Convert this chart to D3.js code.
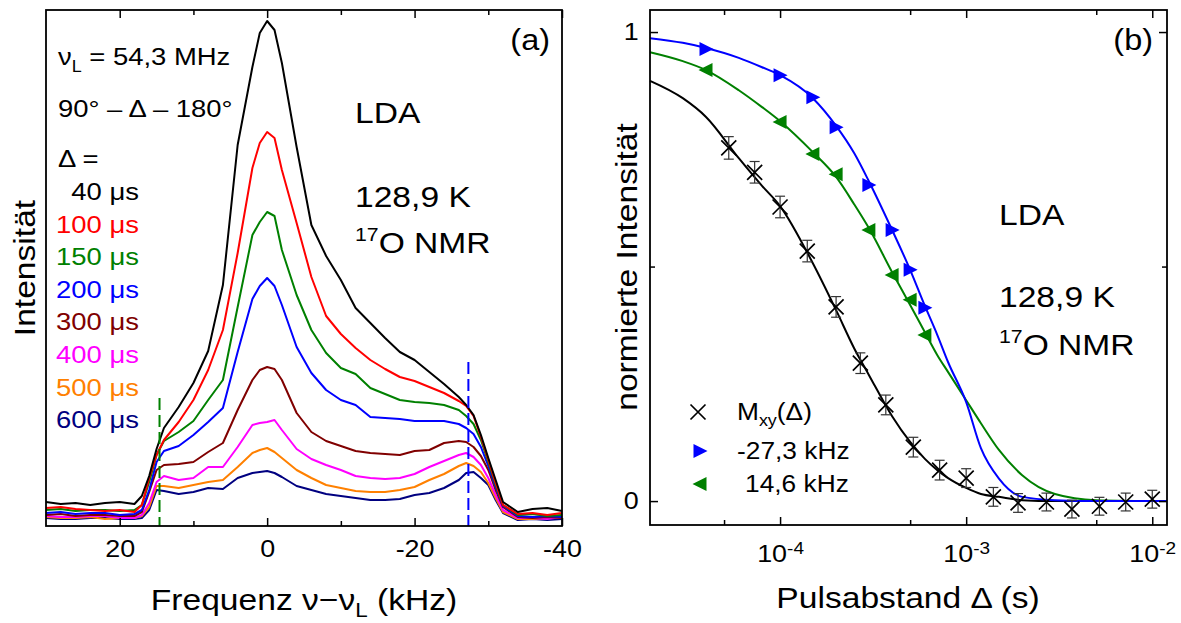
<!DOCTYPE html>
<html>
<head>
<meta charset="utf-8">
<script src="https://cdn.jsdelivr.net/npm/d3@7"></script>
<style>
  body { margin: 0; background: #fff; }
  svg { display: block; }
  text { font-family: "Liberation Sans", Arial, sans-serif; fill: #000; }
</style>
</head>
<body>
<div id="chart"></div>
<script>
// (a) spectra, intensity in arbitrary units
const freqs = [30, 28, 26, 24, 22, 20, 18, 17, 16, 15, 14, 12, 10, 8, 6, 4, 2, 1, 0, -1, -2, -4, -6, -8, -10, -12, -14, -16, -18, -20, -22, -24, -26, -27, -28, -29, -30, -31, -32, -34, -36, -38, -40];

const s40  = [4.8, 4.4, 4.6, 4.2, 4.6, 4.8, 4.4, 6.0, 10.0, 15.4, 19.6, 23.8, 28.6, 35.0, 48.2, 76.2, 91.8, 98.6, 101.0, 99.2, 92.6, 75.8, 60.2, 54.0, 49.2, 43.6, 40.6, 37.6, 34.8, 33.2, 30.8, 28.4, 25.8, 24.2, 22.2, 18.2, 13.6, 9.2, 4.8, 2.8, 3.4, 3.6, 3.0];
const s100 = [3.6, 3.8, 3.4, 3.2, 3.0, 3.2, 2.8, 4.2, 9.6, 14.2, 17.2, 20.8, 25.2, 31.2, 39.2, 54.6, 71.6, 76.6, 78.8, 77.6, 71.2, 60.6, 49.8, 42.0, 38.4, 35.6, 33.2, 31.4, 29.8, 29.0, 27.8, 26.6, 25.0, 24.0, 22.0, 17.8, 13.2, 8.6, 4.2, 2.4, 2.6, 2.2, 2.6];
const s150 = [3.2, 3.4, 3.0, 3.2, 3.2, 3.0, 3.2, 4.2, 8.8, 14.2, 17.0, 18.8, 21.0, 25.2, 29.2, 43.8, 58.2, 60.8, 62.8, 62.0, 55.2, 46.2, 39.2, 34.6, 31.6, 30.4, 27.6, 26.4, 25.2, 24.8, 24.6, 24.2, 23.2, 22.0, 20.4, 17.2, 12.8, 8.2, 4.2, 2.2, 2.4, 2.0, 2.2];
const s200 = [2.6, 2.8, 2.4, 2.6, 2.6, 2.2, 2.4, 3.2, 7.2, 12.8, 15.0, 16.0, 18.2, 20.8, 23.6, 34.8, 45.4, 48.0, 49.6, 48.0, 44.2, 35.8, 30.6, 27.2, 25.2, 24.2, 21.8, 21.6, 21.4, 21.0, 21.0, 21.0, 20.4, 19.6, 18.4, 15.8, 12.0, 7.8, 4.0, 2.0, 1.8, 2.0, 1.8];
const s300 = [2.2, 2.4, 2.0, 2.2, 2.2, 2.0, 2.0, 2.8, 6.8, 11.2, 12.2, 12.4, 12.8, 14.8, 16.6, 23.2, 29.2, 31.2, 31.8, 31.4, 29.2, 22.6, 18.8, 17.0, 16.0, 15.0, 14.6, 14.4, 14.2, 15.0, 15.2, 16.6, 17.0, 16.8, 15.8, 14.0, 11.2, 7.2, 3.8, 1.8, 1.6, 1.8, 1.6];
const s400 = [2.0, 1.8, 1.8, 2.0, 2.0, 1.6, 1.6, 2.2, 4.6, 8.8, 10.0, 9.2, 9.6, 11.8, 11.8, 15.8, 20.2, 20.6, 20.8, 21.2, 19.2, 15.4, 13.4, 12.2, 11.2, 10.0, 9.6, 9.4, 9.6, 10.4, 11.8, 13.0, 14.2, 14.6, 13.8, 12.2, 9.6, 6.2, 3.2, 1.6, 1.6, 1.4, 1.8];
const s500 = [1.8, 1.6, 1.6, 1.8, 1.4, 1.6, 1.6, 2.0, 3.8, 8.0, 8.0, 7.6, 8.2, 8.8, 9.2, 11.8, 14.6, 15.2, 15.6, 14.8, 13.6, 11.2, 9.6, 8.2, 7.6, 7.0, 6.8, 6.8, 7.2, 7.8, 9.2, 10.4, 12.0, 12.6, 12.0, 10.8, 8.6, 5.6, 2.8, 1.4, 1.4, 1.6, 1.6];
const s600 = [1.6, 1.4, 1.4, 1.6, 1.6, 1.4, 1.4, 1.6, 3.2, 7.2, 7.0, 6.4, 6.8, 7.6, 7.4, 9.6, 10.6, 10.8, 11.0, 10.6, 9.8, 8.0, 7.2, 6.4, 6.0, 5.6, 5.2, 5.2, 5.4, 6.2, 6.6, 7.6, 9.2, 10.6, 10.8, 9.6, 8.2, 5.2, 2.6, 1.2, 1.4, 1.2, 1.4];

const delayLabels = ["40 μs", "100 μs", "150 μs", "200 μs", "300 μs", "400 μs", "500 μs", "600 μs"];
const markFreq = [14.6, -27.3];
const markTop = [25.6, 32.8];

// (b) normalized intensity vs pulse spacing
const mxyDelay = [5.3e-5, 7.3e-5, 1.0e-4, 1.4e-4, 2.0e-4, 2.7e-4, 3.7e-4, 5.2e-4, 7.2e-4, 1.0e-3, 1.4e-3, 1.9e-3, 2.7e-3, 3.7e-3, 5.2e-3, 7.2e-3, 1.0e-2];
const mxyValue = [0.753, 0.701, 0.627, 0.533, 0.414, 0.294, 0.205, 0.115, 0.066, 0.049, 0.009, -0.004, -0.002, -0.017, -0.011, -0.002, 0.004];
const mxyError = [0.024, 0.023, 0.023, 0.023, 0.022, 0.022, 0.021, 0.021, 0.021, 0.020, 0.020, 0.020, 0.019, 0.019, 0.019, 0.019, 0.019];

const triDelay = [4e-5, 1e-4, 1.5e-4, 2e-4, 3e-4, 4e-4, 5e-4, 6e-4];
const blueValue = [0.964, 0.908, 0.861, 0.797, 0.674, 0.578, 0.493, 0.412];
const greenValue = [0.919, 0.808, 0.740, 0.697, 0.578, 0.482, 0.429, 0.354];

const fitDelay = [2e-5, 3e-5, 4e-5, 6e-5, 8e-5, 1e-4, 1.5e-4, 2e-4, 2.5e-4, 3e-4, 4e-4, 5e-4, 6e-4, 7e-4, 8e-4, 1e-3, 1.2e-3, 1.5e-3, 2e-3, 3e-3, 5e-3, 1.2e-2];
const fitMxy   = [0.896, 0.859, 0.819, 0.731, 0.672, 0.629, 0.507, 0.407, 0.326, 0.269, 0.181, 0.126, 0.090, 0.066, 0.049, 0.028, 0.015, 0.009, 0.002, 0, 0, 0];
const fitBlue  = [0.987, 0.977, 0.966, 0.945, 0.925, 0.908, 0.859, 0.800, 0.742, 0.682, 0.578, 0.493, 0.416, 0.354, 0.296, 0.211, 0.113, 0.048, 0.009, 0.002, 0, 0];
const fitGreen = [0.957, 0.938, 0.919, 0.876, 0.840, 0.810, 0.744, 0.691, 0.633, 0.582, 0.488, 0.418, 0.360, 0.311, 0.275, 0.215, 0.166, 0.109, 0.055, 0.015, 0.002, 0];

const spectra = [s40, s100, s150, s200, s300, s400, s500, s600];
const colors = ["#000000", "#ff0000", "#008000", "#0000ff", "#800000", "#ff00ff", "#ff8000", "#000080"];
const blue = "#0000ff", green = "#008000";
const SX = 1.12;

const svg = d3.select("#chart").append("svg")
    .attr("width", 1181)
    .attr("height", 623);

const label = (g, x, y, size, anchor = "start", rot = 0) =>
    g.append("text")
        .attr("transform", `translate(${x},${y}) rotate(${rot}) scale(${SX},1)`)
        .attr("font-size", size)
        .attr("text-anchor", anchor);

const styleAxis = (g, size = 24) => {
    g.select(".domain").remove();
    g.attr("font-size", size).attr("font-family", null);
    g.selectAll(".tick line").attr("stroke-width", 1.5);
    g.selectAll(".tick text").attr("transform", `scale(${SX},1)`);
    return g;
};

// ---------- panel (a)
const xA = d3.scaleLinear().domain([30, -40]).range([46, 562]);
const yA = d3.scaleLinear().domain([0, 103.2]).range([526, 10]);
const pA = svg.append("g");

const lineA = d3.line().x(d => xA(d[0])).y(d => yA(d[1]));

pA.selectAll("path.spec")
    .data(spectra.map((s, i) => ({ s, c: colors[i] })).reverse())
    .enter()
    .append("path")
    .attr("class", "spec")
    .attr("fill", "none")
    .attr("stroke", d => d.c)
    .attr("stroke-width", 2)
    .attr("stroke-linejoin", "round")
    .attr("d", d => lineA(freqs.map((f, j) => [f, d.s[j]])));

pA.selectAll("line.mark")
    .data(markFreq)
    .enter()
    .append("line")
    .attr("x1", d => xA(d)).attr("x2", d => xA(d))
    .attr("y1", (d, i) => yA(markTop[i]))
    .attr("y2", yA(0))
    .attr("stroke", (d, i) => [green, blue][i])
    .attr("stroke-width", 2)
    .attr("stroke-dasharray", "12,5");

const [ax0, ax1] = xA.range(), [ay0, ay1] = yA.range();

pA.append("g").attr("transform", `translate(0,${ay0})`)
    .call(d3.axisBottom(xA).tickValues([20, 0, -20, -40]).tickSize(-8).tickPadding(14).tickFormat(d => d))
    .call(styleAxis);
pA.append("g").attr("transform", `translate(0,${ay0})`)
    .call(d3.axisBottom(xA).tickValues([10, -10, -30]).tickSize(-5).tickFormat(() => ""))
    .call(styleAxis);
pA.append("g").attr("transform", `translate(0,${ay1})`)
    .call(d3.axisTop(xA).tickValues([20, 0, -20, -40]).tickSize(-8).tickFormat(() => ""))
    .call(styleAxis);
pA.append("g").attr("transform", `translate(0,${ay1})`)
    .call(d3.axisTop(xA).tickValues([10, -10, -30]).tickSize(-5).tickFormat(() => ""))
    .call(styleAxis);

pA.append("rect")
    .attr("x", ax0).attr("y", ay1)
    .attr("width", ax1 - ax0).attr("height", ay0 - ay1)
    .attr("fill", "none").attr("stroke", "#000").attr("stroke-width", 1.8);

let t = label(pA, 58, 65, 24.5);
t.append("tspan").text("ν");
t.append("tspan").attr("font-size", 16).attr("dy", 7).text("L");
t.append("tspan").attr("dy", -7).text(" = 54,3 MHz");
label(pA, 58, 117, 24.5).text("90° – Δ – 180°");
label(pA, 58, 167, 24.5).text("Δ =");
delayLabels.forEach((d, i) => {
    label(pA, 139, 200 + i * 32.6, 24.5, "end").style("fill", colors[i]).text(d);
});

label(pA, 550, 50, 29, "end").text("(a)");
label(pA, 355, 123, 30).text("LDA");
label(pA, 355, 207, 30).text("128,9 K");
t = label(pA, 355, 253, 30);
t.append("tspan").attr("font-size", 19).attr("dy", -12).text("17");
t.append("tspan").attr("dy", 12).text("O NMR");

label(pA, 35, 268, 30, "middle", -90).text("Intensität");
t = label(pA, 304, 610, 30, "middle");
t.append("tspan").text("Frequenz ν\u2212ν");
t.append("tspan").attr("font-size", 20).attr("dy", 7).text("L");
t.append("tspan").attr("dy", -7).text(" (kHz)");

// ---------- panel (b)
const xB = d3.scaleLog().domain([2e-5, 1.2e-2]).range([650, 1167]);
const yB = d3.scaleLinear().domain([-0.051, 1.047]).range([525, 10]);
const pB = svg.append("g");
const [bx0, bx1] = xB.range(), [by0, by1] = yB.range();

const lineB = d3.line().x(d => xB(d[0])).y(d => yB(d[1])).curve(d3.curveMonotoneX);

pB.append("path")
    .attr("fill", "none").attr("stroke", "#000").attr("stroke-width", 2)
    .attr("d", lineB(fitDelay.map((d, i) => [d, fitMxy[i]])));
pB.append("path")
    .attr("fill", "none").attr("stroke", green).attr("stroke-width", 2)
    .attr("d", lineB(fitDelay.map((d, i) => [d, fitGreen[i]])));
pB.append("path")
    .attr("fill", "none").attr("stroke", blue).attr("stroke-width", 2)
    .attr("d", lineB(fitDelay.map((d, i) => [d, fitBlue[i]])));

const err = pB.append("g").attr("stroke", "#333").attr("stroke-width", 1.2);
mxyDelay.forEach((d, i) => {
    const x = xB(d), lo = yB(mxyValue[i] - mxyError[i]), hi = yB(mxyValue[i] + mxyError[i]);
    err.append("line").attr("x1", x).attr("x2", x).attr("y1", lo).attr("y2", hi);
    err.append("line").attr("x1", x - 5).attr("x2", x + 5).attr("y1", lo).attr("y2", lo);
    err.append("line").attr("x1", x - 5).attr("x2", x + 5).attr("y1", hi).attr("y2", hi);
});

const cross = "M-7.5,-7.5L7.5,7.5M-7.5,7.5L7.5,-7.5";
const triRight = "M-6.5,-7L7.5,0L-6.5,7Z";
const triLeft = "M6.5,-7L-7.5,0L6.5,7Z";

pB.selectAll("path.mxy")
    .data(mxyDelay)
    .enter()
    .append("path")
    .attr("class", "mxy")
    .attr("d", cross)
    .attr("transform", (d, i) => `translate(${xB(d)},${yB(mxyValue[i])})`)
    .attr("stroke", "#000").attr("stroke-width", 1.7).attr("fill", "none");

pB.selectAll("path.grn")
    .data(triDelay)
    .enter()
    .append("path")
    .attr("class", "grn")
    .attr("d", triLeft)
    .attr("transform", (d, i) => `translate(${xB(d)},${yB(greenValue[i])})`)
    .attr("fill", green);

pB.selectAll("path.blu")
    .data(triDelay)
    .enter()
    .append("path")
    .attr("class", "blu")
    .attr("d", triRight)
    .attr("transform", (d, i) => `translate(${xB(d)},${yB(blueValue[i])})`)
    .attr("fill", blue);

const sup = g => g.selectAll(".tick text").each(function (d) {
    const s = d3.select(this);
    s.append("tspan").text("10");
    s.append("tspan").attr("font-size", 17).attr("dy", "-0.5em").text(Math.round(Math.log10(d)));
});

pB.append("g").attr("transform", `translate(0,${by0})`)
    .call(d3.axisBottom(xB).tickValues([1e-4, 1e-3, 1e-2]).tickSize(-8).tickPadding(20).tickFormat(() => ""))
    .call(styleAxis)
    .call(sup);
pB.append("g").attr("transform", `translate(0,${by0})`)
    .call(d3.axisBottom(xB).tickValues([5e-5, 5e-4, 5e-3]).tickSize(-5).tickFormat(() => ""))
    .call(styleAxis);
pB.append("g").attr("transform", `translate(0,${by1})`)
    .call(d3.axisTop(xB).tickValues([1e-4, 1e-3, 1e-2]).tickSize(-8).tickFormat(() => ""))
    .call(styleAxis);
pB.append("g").attr("transform", `translate(0,${by1})`)
    .call(d3.axisTop(xB).tickValues([5e-5, 5e-4, 5e-3]).tickSize(-5).tickFormat(() => ""))
    .call(styleAxis);
pB.append("g").attr("transform", `translate(${bx0},0)`)
    .call(d3.axisLeft(yB).tickValues([0, 1]).tickSize(-8).tickPadding(10).tickFormat(d => d))
    .call(styleAxis);
pB.append("g").attr("transform", `translate(${bx0},0)`)
    .call(d3.axisLeft(yB).tickValues([0.5]).tickSize(-5).tickFormat(() => ""))
    .call(styleAxis);
pB.append("g").attr("transform", `translate(${bx1},0)`)
    .call(d3.axisRight(yB).tickValues([0, 1]).tickSize(-8).tickFormat(() => ""))
    .call(styleAxis);
pB.append("g").attr("transform", `translate(${bx1},0)`)
    .call(d3.axisRight(yB).tickValues([0.5]).tickSize(-5).tickFormat(() => ""))
    .call(styleAxis);

pB.append("rect")
    .attr("x", bx0).attr("y", by1)
    .attr("width", bx1 - bx0).attr("height", by0 - by1)
    .attr("fill", "none").attr("stroke", "#000").attr("stroke-width", 1.8);

// legend
pB.append("path").attr("d", cross).attr("transform", "translate(698,412)")
    .attr("stroke", "#000").attr("stroke-width", 1.7).attr("fill", "none");
pB.append("path").attr("d", triRight).attr("transform", "translate(700,451)").attr("fill", blue);
pB.append("path").attr("d", triLeft).attr("transform", "translate(700,484)").attr("fill", green);
t = label(pB, 737, 420, 23.5);
t.append("tspan").text("M");
t.append("tspan").attr("font-size", 16).attr("dy", 6).text("xy");
t.append("tspan").attr("dy", -6).text("(Δ)");
label(pB, 737, 459, 23.5).text("-27,3 kHz");
label(pB, 745, 492, 23.5).text("14,6 kHz");

label(pB, 1153, 50, 29, "end").text("(b)");
label(pB, 999, 225, 30).text("LDA");
label(pB, 999, 307, 30).text("128,9 K");
t = label(pB, 999, 355, 30);
t.append("tspan").attr("font-size", 19).attr("dy", -12).text("17");
t.append("tspan").attr("dy", 12).text("O NMR");

label(pB, 637, 267, 30, "middle", -90).text("normierte Intensität");
label(pB, 908, 608, 30, "middle").text("Pulsabstand Δ (s)");
</script>
</body>
</html>
